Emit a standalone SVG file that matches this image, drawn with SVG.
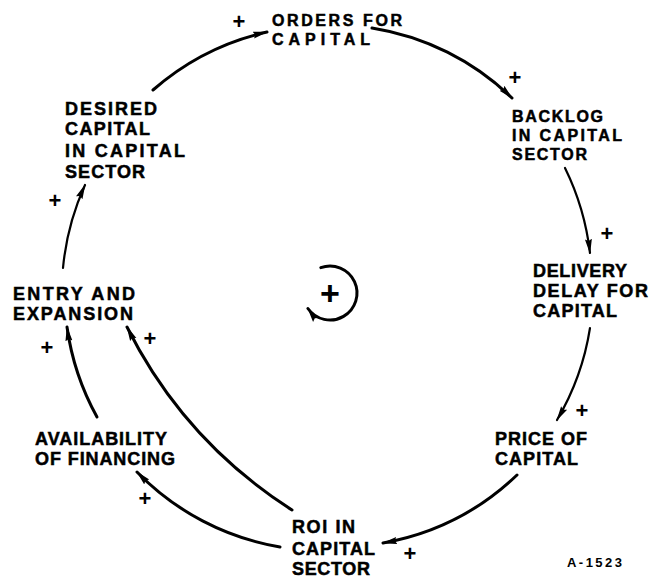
<svg xmlns="http://www.w3.org/2000/svg" width="649" height="580" viewBox="0 0 649 580">
<style>
text{font-family:"Liberation Sans",Arial,sans-serif;font-weight:bold;fill:#000}
.lbl{font-size:18px;stroke:#000;stroke-width:0.5}
.sm{font-size:16px}
.pol{font-size:22px;text-anchor:middle}
.con{fill:none;stroke:#000;stroke-width:3;stroke-linecap:round}
.thin{stroke-width:2.2}
</style>
<defs>
<marker id="ah" markerUnits="userSpaceOnUse" markerWidth="16" markerHeight="10" refX="14" refY="5" orient="auto">
<path d="M0,1.5 L15,5 L0,8.5 L2,5 Z" fill="#000"/>
</marker>
</defs>
<rect width="649" height="580" fill="#fff"/>
<g id="connectors">
<path class="con" d="M153,90 A260,260 0 0 1 267,32" marker-end="url(#ah)"/>
<path class="con" d="M372,28 A260,260 0 0 1 512,98" marker-end="url(#ah)"/>
<path class="con thin" d="M565,168 A260,260 0 0 1 590,253" marker-end="url(#ah)"/>
<path class="con thin" d="M590,328 A260,260 0 0 1 557,420" marker-end="url(#ah)"/>
<path class="con" d="M517,475 A260,260 0 0 1 383,543" marker-end="url(#ah)"/>
<path class="con" d="M280,547 A260,260 0 0 1 137,472" marker-end="url(#ah)"/>
<path class="con" d="M97,417 A260,260 0 0 1 67,327" marker-end="url(#ah)"/>
<path class="con thin" d="M63,268 A260,260 0 0 1 85,185" marker-end="url(#ah)"/>
<path class="con" d="M292,510 Q184,441 127,327" marker-end="url(#ah)"/>
</g>
<g id="polarities">
<text class="pol" x="239" y="29">+</text>
<text class="pol" x="515" y="85">+</text>
<text class="pol" x="607" y="241">+</text>
<text class="pol" x="582" y="418">+</text>
<text class="pol" x="410" y="561">+</text>
<text class="pol" x="145" y="506">+</text>
<text class="pol" x="47" y="355">+</text>
<text class="pol" x="150" y="346">+</text>
<text class="pol" x="55" y="208">+</text>
</g>
<g id="loop">
<path class="con" d="M320.8,267.6 A27,27 0 1 1 307.9,308.5" marker-end="url(#ah)"/>
<text x="330" y="305" font-size="34" text-anchor="middle">+</text>
</g>
<g id="orders"><text class="lbl sm" x="272" y="26" textLength="130">ORDERS FOR</text><text class="lbl sm" x="272" y="45" textLength="98">CAPITAL</text></g>
<g id="backlog"><text class="lbl sm" x="512" y="122" textLength="91">BACKLOG</text><text class="lbl sm" x="512" y="141" textLength="110">IN CAPITAL</text><text class="lbl sm" x="512" y="160" textLength="75">SECTOR</text></g>
<g id="delivery"><text class="lbl" x="533" y="277" textLength="94">DELIVERY</text><text class="lbl" x="533" y="297" textLength="115">DELAY FOR</text><text class="lbl" x="533" y="317" textLength="84">CAPITAL</text></g>
<g id="price"><text class="lbl" x="495" y="445" textLength="92">PRICE OF</text><text class="lbl" x="495" y="465" textLength="83">CAPITAL</text></g>
<g id="roi"><text class="lbl" x="292" y="533" textLength="63">ROI IN</text><text class="lbl" x="292" y="555" textLength="83">CAPITAL</text><text class="lbl" x="292" y="575" textLength="78">SECTOR</text></g>
<g id="availability"><text class="lbl" x="35" y="445" textLength="132">AVAILABILITY</text><text class="lbl" x="35" y="465" textLength="140">OF FINANCING</text></g>
<g id="entry"><text class="lbl" x="13" y="300" textLength="122">ENTRY AND</text><text class="lbl" x="13" y="320" textLength="120">EXPANSION</text></g>
<g id="desired"><text class="lbl" x="65" y="115" textLength="92">DESIRED</text><text class="lbl" x="65" y="135" textLength="85">CAPITAL</text><text class="lbl" x="65" y="157" textLength="120">IN CAPITAL</text><text class="lbl" x="65" y="178" textLength="80">SECTOR</text></g>
<text x="567" y="567" font-size="13" textLength="55">A-1523</text>
</svg>
